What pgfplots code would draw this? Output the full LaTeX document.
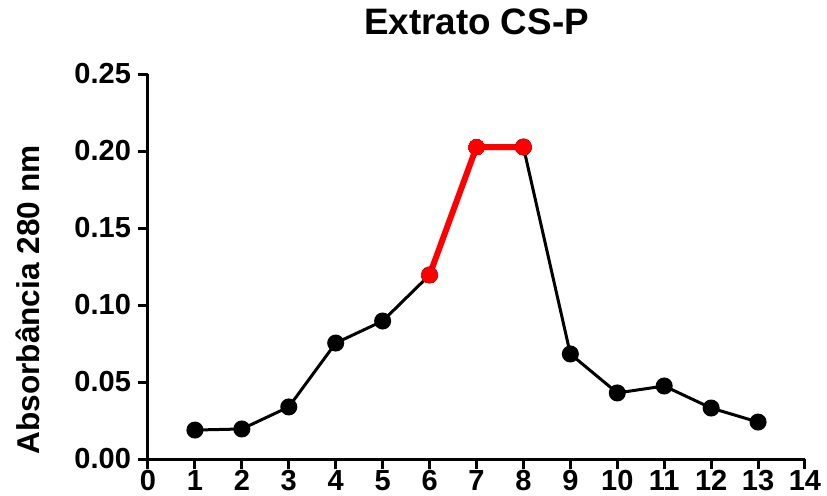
\documentclass[border=0pt]{standalone}
\usepackage{fontspec}
\setmainfont{Liberation Sans}
\usepackage{pgfplots}
\usepackage{pgfplotstable}
\pgfplotsset{compat=1.18}

% absorbance per fraction
\pgfplotstableread{
x y
1 0.0188
2 0.0195
3 0.0338
4 0.0753
5 0.0896
6 0.1195
}\riseA
\pgfplotstableread{
x y
8 0.2026
9 0.0682
10 0.0429
11 0.0474
12 0.0331
13 0.0240
}\fallB
\pgfplotstableread{
x y
6 0.1195
7 0.2026
8 0.2026
}\peak

\begin{document}
\begin{tikzpicture}
\useasboundingbox (-74pt,-18pt) rectangle (339.5pt,229.5pt);
\begin{axis}[
    scale only axis,
    width=328.5pt, height=192.5pt,
    xmin=0, xmax=14, ymin=0, ymax=0.25,
    axis x line*=bottom, axis y line*=left,
    axis line style={line width=1.5pt, -},
    xtick={0,...,14},
    ytick={0,0.05,0.10,0.15,0.20,0.25},
    tick align=outside,
    major tick length=5pt,
    every tick/.style={line width=1.5pt, black},
    /pgf/number format/assume math mode=true,
    yticklabel style={/pgf/number format/fixed, /pgf/number format/fixed zerofill, /pgf/number format/precision=2},
    xticklabel style={yshift=3pt},
    scaled y ticks=false,
    tick label style={font=\fontsize{14.5}{16}\selectfont\bfseries},
    title={Extrato CS-P},
    title style={at={(axis description cs:0.5,1)}, anchor=center, yshift=20pt, font=\fontsize{18.4}{20}\selectfont\bfseries},
    ylabel={Absorbância 280 nm},
    ylabel style={at={(axis description cs:-0.183,0.413)}, anchor=center, rotate=0, font=\fontsize{15.8}{18}\selectfont\bfseries},
    clip=false,
]
\addplot[black, line width=1.5pt, mark=*, mark size=3.5pt] table[x=x, y=y] {\riseA};
\addplot[black, line width=1.5pt, mark=*, mark size=3.5pt] table[x=x, y=y] {\fallB};
\addplot[red, line width=3pt, mark=*, mark size=4pt, mark options={line width=0pt}] table[x=x, y=y] {\peak};
\end{axis}
\end{tikzpicture}
\end{document}
